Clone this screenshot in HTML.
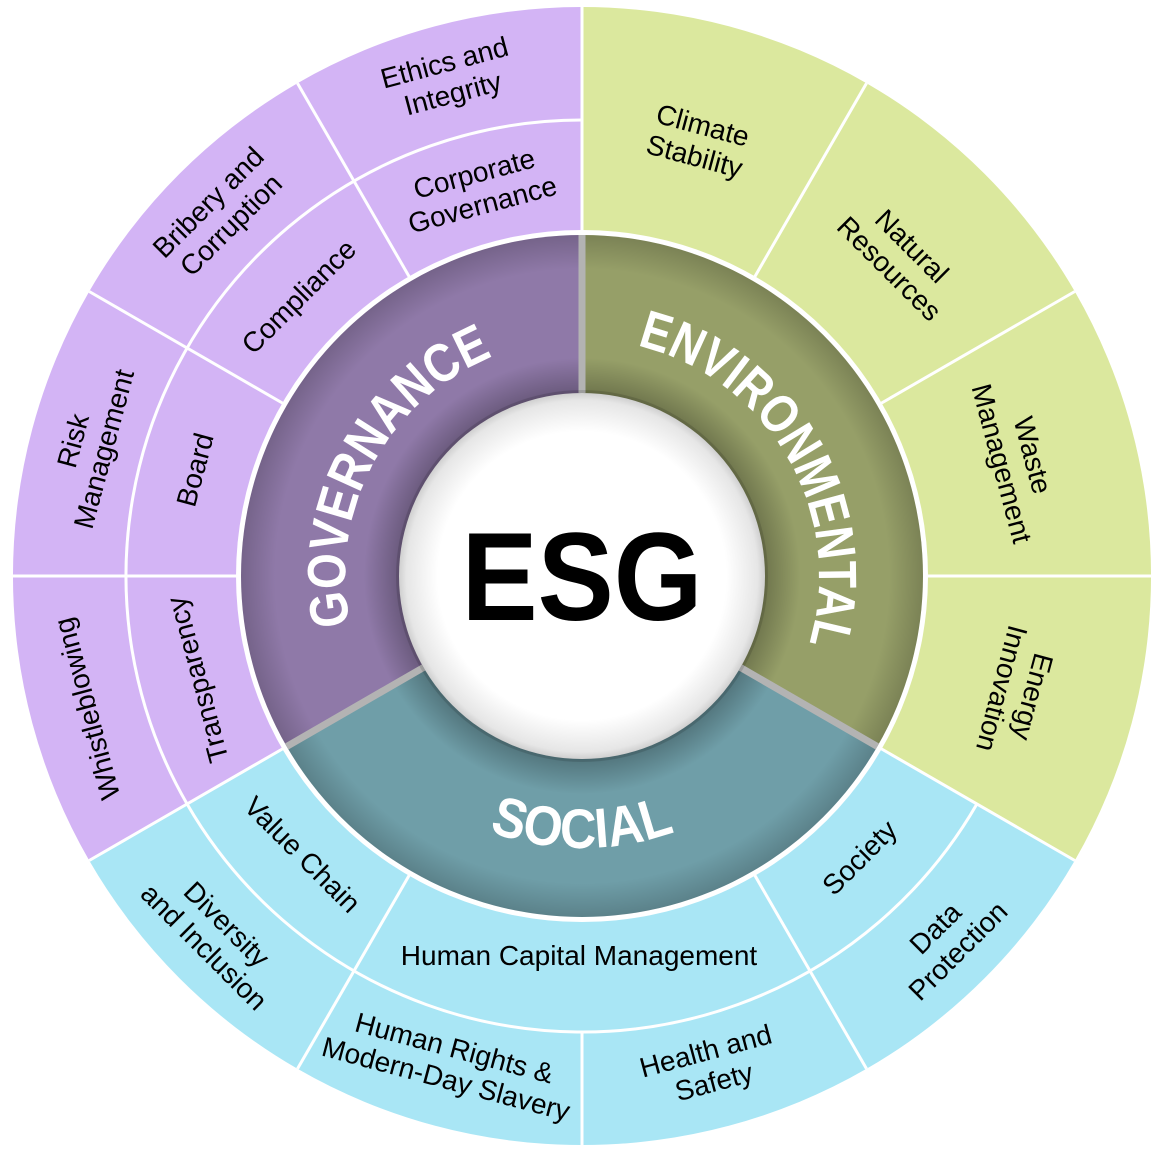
<!DOCTYPE html>
<html><head><meta charset="utf-8">
<style>
html,body{margin:0;padding:0;background:#fff;}
svg{display:block;}
.t{font-family:"Liberation Sans",sans-serif;font-size:28px;fill:#000;}
.d{font-family:"Liberation Sans",sans-serif;font-weight:bold;fill:#fff;}
</style></head><body>
<svg width="1155" height="1173" viewBox="0 0 1155 1173" xmlns="http://www.w3.org/2000/svg">
<defs>
<radialGradient id="shade" cx="582" cy="576" r="341" gradientUnits="userSpaceOnUse">
<stop offset="0.52" stop-color="#000" stop-opacity="0.3"/>
<stop offset="0.64" stop-color="#000" stop-opacity="0"/>
<stop offset="0.9" stop-color="#000" stop-opacity="0"/>
<stop offset="1" stop-color="#000" stop-opacity="0.18"/>
</radialGradient>
<radialGradient id="inner" cx="582" cy="576" r="185" gradientUnits="userSpaceOnUse">
<stop offset="0.78" stop-color="#fff"/>
<stop offset="0.95" stop-color="#e6e6e6"/>
<stop offset="1" stop-color="#c9c9c9"/>
</radialGradient>
<path id="gov" d="M 508.8,801.4 A 237,237 0 1 1 728,389.2" fill="none"/>
<path id="env" d="M 429.7,394.4 A 237,237 0 1 1 663.1,798.7" fill="none"/>
<path id="soc" d="M 310,576 A 272,272 0 0 0 854,576" fill="none"/>
</defs>

<path d="M582,576 L582,7 A569,569 0 0 1 1074.8,860.5 Z" fill="#dbe89e"/>
<path d="M582,576 L1074.8,860.5 A569,569 0 0 1 89.2,860.5 Z" fill="#a9e6f5"/>
<path d="M582,576 L89.2,860.5 A569,569 0 0 1 582,7 Z" fill="#d3b4f5"/>

<g stroke="#fff" stroke-width="3" fill="none">
<line x1="582" y1="231" x2="582" y2="4"/>
<line x1="754.5" y1="277.2" x2="866.5" y2="83.2"/>
<line x1="880.8" y1="403.5" x2="1074.8" y2="291.5"/>
<line x1="927" y1="576" x2="1151" y2="576"/>
<line x1="880.8" y1="748.5" x2="1074.8" y2="860.5"/>
<line x1="754.5" y1="874.8" x2="866.5" y2="1068.8"/>
<line x1="582" y1="1032" x2="582" y2="1148"/>
<line x1="409.5" y1="874.8" x2="297.5" y2="1068.8"/>
<line x1="283.2" y1="748.5" x2="89.2" y2="860.5"/>
<line x1="237" y1="576" x2="10" y2="576"/>
<line x1="283.2" y1="403.5" x2="89.2" y2="291.5"/>
<line x1="409.5" y1="277.2" x2="297.5" y2="83.2"/>
<path d="M976.9,804 A456,456 0 1 1 582,120"/>
</g>

<circle cx="582" cy="576" r="346" fill="#fff"/>

<path d="M582,576 L582,235 A341,341 0 0 1 877.3,746.5 Z" fill="#969f68"/>
<path d="M582,576 L877.3,746.5 A341,341 0 0 1 286.7,746.5 Z" fill="#6f9ea8"/>
<path d="M582,576 L286.7,746.5 A341,341 0 0 1 582,235 Z" fill="#8f79a8"/>
<circle cx="582" cy="576" r="341" fill="url(#shade)"/>
<g stroke="#b3b3b3" stroke-width="7">
<line x1="582" y1="393" x2="582" y2="235"/>
<line x1="740.5" y1="667.5" x2="877.3" y2="746.5"/>
<line x1="423.5" y1="667.5" x2="286.7" y2="746.5"/>
</g>

<circle cx="582" cy="576" r="186" fill="#000" opacity="0.12"/>
<circle cx="582" cy="576" r="183" fill="url(#inner)"/>
<text x="582" y="620" text-anchor="middle" font-family="Liberation Sans, sans-serif" font-weight="bold" font-size="125" fill="#000" textLength="241" lengthAdjust="spacingAndGlyphs">ESG</text>

<text class="d" font-size="54"><textPath href="#gov" startOffset="50%" text-anchor="middle" textLength="330" lengthAdjust="spacingAndGlyphs">GOVERNANCE</textPath></text>
<text class="d" font-size="54"><textPath href="#env" startOffset="50%" text-anchor="middle" textLength="385" lengthAdjust="spacingAndGlyphs">ENVIRONMENTAL</textPath></text>
<text class="d" font-size="56"><textPath href="#soc" startOffset="50%" text-anchor="middle" textLength="190" lengthAdjust="spacingAndGlyphs">SOCIAL</textPath></text>

<g class="t" text-anchor="middle">
<text transform="translate(448.7,78.6) rotate(-15)"><tspan x="0" y="-7">Ethics and</tspan><tspan x="0" y="25">Integrity</tspan></text>
<text transform="translate(220,214) rotate(-45)"><tspan x="0" y="-7">Bribery and</tspan><tspan x="0" y="25">Corruption</tspan></text>
<text transform="translate(89,445) rotate(-75)"><tspan x="0" y="-7">Risk</tspan><tspan x="0" y="25">Management</tspan></text>
<text transform="translate(87.5,708.5) rotate(-105)"><tspan x="0" y="9">Whistleblowing</tspan></text>
<text transform="translate(478.5,189.6) rotate(-15)"><tspan x="0" y="-7">Corporate</tspan><tspan x="0" y="25">Governance</tspan></text>
<text transform="translate(299.2,297) rotate(-45)"><tspan x="0" y="9">Compliance</tspan></text>
<text transform="translate(195.6,470) rotate(-75)"><tspan x="0" y="9">Board</tspan></text>
<text transform="translate(198,679.5) rotate(-105)"><tspan x="0" y="9">Transparency</tspan></text>
<text transform="translate(698.5,141.3) rotate(15)"><tspan x="0" y="-7">Climate</tspan><tspan x="0" y="25">Stability</tspan></text>
<text transform="translate(900.2,257.8) rotate(45)"><tspan x="0" y="-7">Natural</tspan><tspan x="0" y="25">Resources</tspan></text>
<text transform="translate(1016.7,459.5) rotate(75)"><tspan x="0" y="-7">Waste</tspan><tspan x="0" y="25">Management</tspan></text>
<text transform="translate(1016.7,692.5) rotate(105)"><tspan x="0" y="-7">Energy</tspan><tspan x="0" y="25">Innovation</tspan></text>
<text transform="translate(860,858) rotate(-45)"><tspan x="0" y="9">Society</tspan></text>
<text transform="translate(579,956) rotate(0)"><tspan x="0" y="9">Human Capital Management</tspan></text>
<text transform="translate(302,855) rotate(45)"><tspan x="0" y="9">Value Chain</tspan></text>
<text transform="translate(947,940) rotate(-45)"><tspan x="0" y="-7">Data</tspan><tspan x="0" y="25">Protection</tspan></text>
<text transform="translate(710,1067) rotate(-15)"><tspan x="0" y="-7">Health and</tspan><tspan x="0" y="25">Safety</tspan></text>
<text transform="translate(450,1064) rotate(15)"><tspan x="0" y="-7">Human Rights &amp;</tspan><tspan x="0" y="25">Modern-Day Slavery</tspan></text>
<text transform="translate(215,936) rotate(45)"><tspan x="0" y="-7">Diversity</tspan><tspan x="0" y="25">and Inclusion</tspan></text>
</g>
</svg>
</body></html>
